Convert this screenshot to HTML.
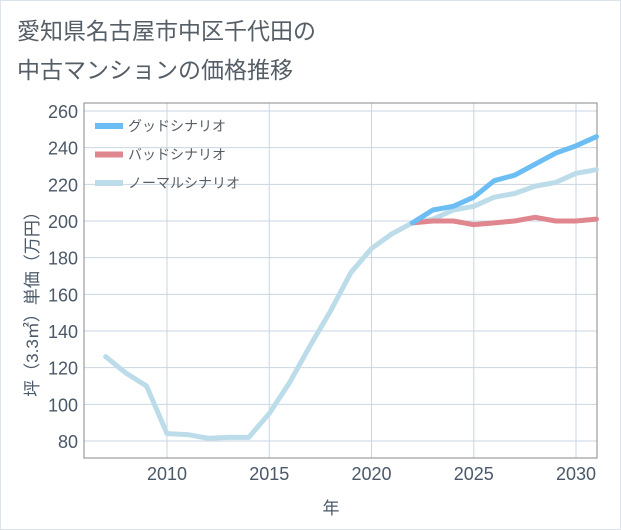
<!DOCTYPE html>
<html><head><meta charset="utf-8"><style>
body{margin:0;background:#fff;font-family:"Liberation Sans","Noto Sans CJK JP",sans-serif;}
#wrap{position:relative;width:619px;height:528px;border:1px solid #dde3ea;background:#fff;}
</style></head><body>
<div id="wrap">
<svg id="c" width="621" height="530" style="position:absolute;left:-1px;top:-1px"></svg>
</div>
<script>
const years=[2007,2008,2009,2010,2011,2012,2013,2014,2015,2016,2017,2018,2019,2020,2021,2022,2023,2024,2025,2026,2027,2028,2029,2030,2031];
const normal=[126,117,110,84,83.5,81.5,82,82,95,112,132,151,172,185,193,199,201,206,208,213,215,219,221,226,228];
const fyears=[2022,2023,2024,2025,2026,2027,2028,2029,2030,2031];
const good=[199,206,208,213,222,225,231,237,241,246];
const bad=[199,200,200,198,199,200,202,200,200,201];
const yTicks=[80,100,120,140,160,180,200,220,240,260];
const xTicks=[2010,2015,2020,2025,2030];
const NS="http://www.w3.org/2000/svg",svg=document.getElementById('c');
const L=84,R=597,T=103,B=458;
const X=v=>167+(v-2010)*20.45, Y=v=>441-(v-80)*1.8333;
function mk(t,a,p){const e=document.createElementNS(NS,t);for(const k in a)e.setAttribute(k,a[k]);(p||svg).appendChild(e);return e;}
let e;
e=mk('text',{x:17,y:39,'font-size':23,fill:'#555e66'});e.textContent='愛知県名古屋市中区千代田の';


e=mk('text',{x:17,y:78,'font-size':23,fill:'#555e66'});e.textContent='中古マンションの価格推移';


for(const t of yTicks){e=mk('line',{x1:L,x2:R,y1:Y(t),y2:Y(t),stroke:'#c9d6e3','stroke-width':1});
 e=mk('text',{x:L-6,y:Y(t)+7,'text-anchor':'end','font-size':18,fill:'#4a5868'});e.textContent=t;
 
 }
for(const t of xTicks){mk('line',{x1:X(t),x2:X(t),y1:T,y2:B,stroke:'#c9d6e3','stroke-width':1});
 e=mk('text',{x:X(t),y:480,'text-anchor':'middle','font-size':18,fill:'#4a5868'});e.textContent=t;
 
 }
mk('rect',{x:L,y:T,width:R-L,height:B-T,fill:'none',stroke:'#888','stroke-width':1});
function line(xs,ys,col,name){const p=xs.map((x,i)=>X(x)+','+Y(ys[i])).join(' ');
 const el=mk('polyline',{points:p,fill:'none',stroke:col,'stroke-width':5,'stroke-linejoin':'round','stroke-linecap':'round'});
 
 }
line(years,normal,'#bcdcea','normal-series');
line(fyears,bad,'#e0868f','bad-series');
line(fyears,good,'#6cbdf3','good-series');
const leg=[['グッドシナリオ','#6cbdf3'],['バッドシナリオ','#e0868f'],['ノーマルシナリオ','#bcdcea']];
leg.forEach((l,i)=>{const y=126+i*28.5;
 mk('line',{x1:95,x2:123,y1:y,y2:y,stroke:l[1],'stroke-width':6});
 e=mk('text',{x:128,y:y+5,'font-size':14,fill:'#555e66'});e.textContent=l[0];
 
 });
e=mk('text',{x:331,y:514,'text-anchor':'middle','font-size':17,fill:'#4a5868'});e.textContent='年';


e=mk('text',{x:0,y:0,'text-anchor':'middle','font-size':17,fill:'#4a5868',transform:'translate(38,300) rotate(-90)'});e.textContent='坪（3.3㎡）単価（万円）';


</script>
</body></html>
